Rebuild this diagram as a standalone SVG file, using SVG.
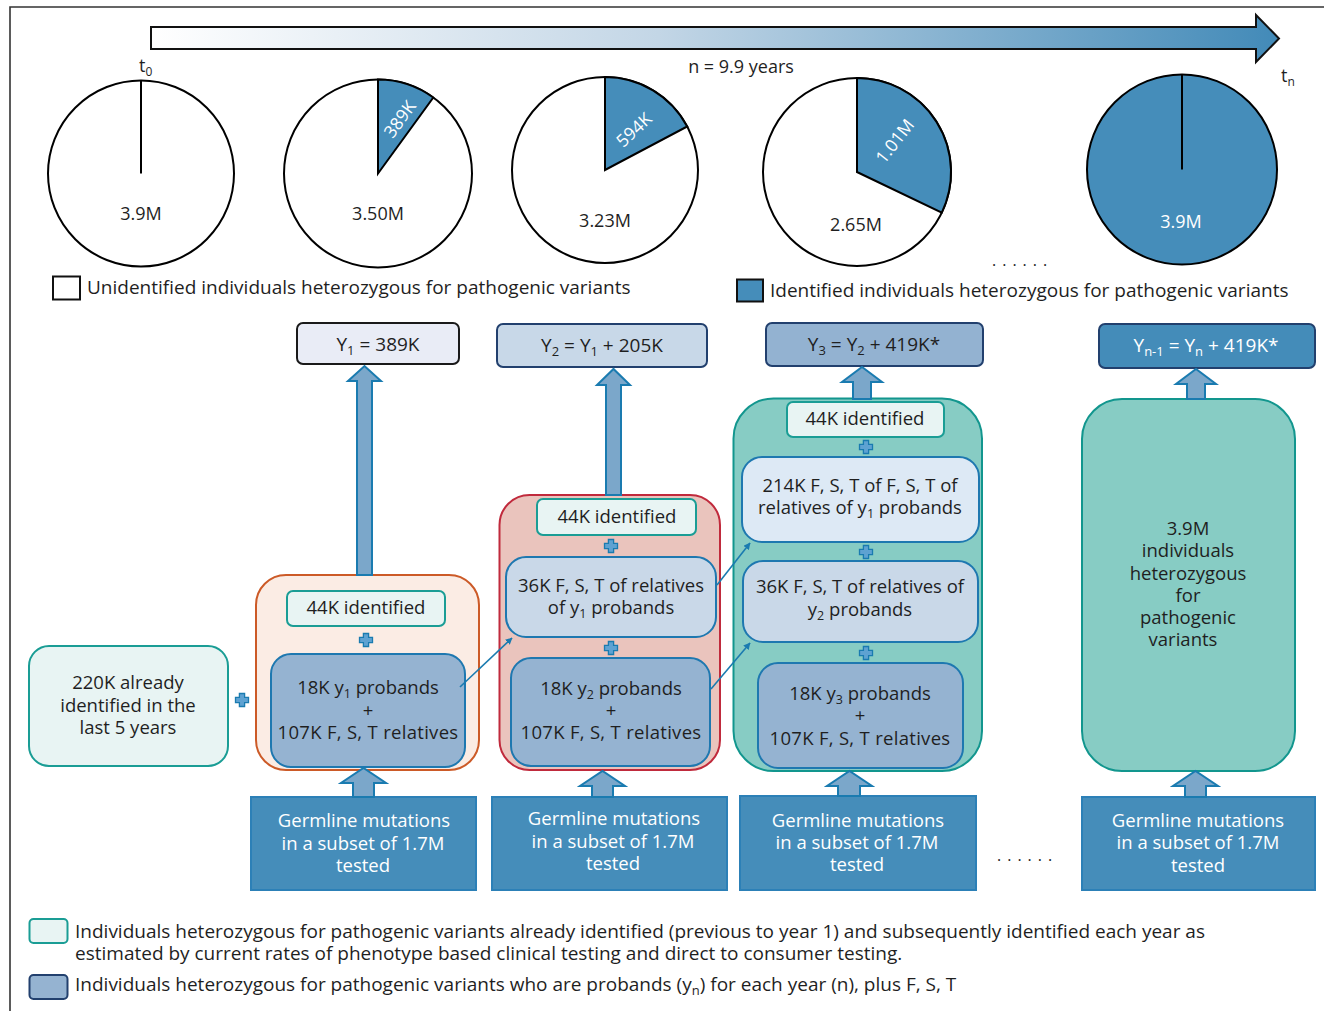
<svg xmlns="http://www.w3.org/2000/svg" width="1324" height="1011" viewBox="0 0 1324 1011">
<defs>
<linearGradient id="tl" x1="0" y1="0" x2="1" y2="0">
<stop offset="0" stop-color="#ffffff"/>
<stop offset="0.45" stop-color="#c3d6e6"/>
<stop offset="1" stop-color="#428ab8"/>
</linearGradient>
<path id="plus" d="M-2.6,-6.5 h5.2 v3.9 h3.9 v5.2 h-3.9 v3.9 h-5.2 v-3.9 h-3.9 v-5.2 h3.9 z" fill="#5ea2d2" stroke="#1a7bb0" stroke-width="1.3"/>
<marker id="ah" viewBox="0 0 10 10" refX="9" refY="5" markerWidth="7" markerHeight="7" orient="auto" markerUnits="userSpaceOnUse">
<path d="M0,0 L10,5 L0,10 z" fill="#1a7bb0"/>
</marker>
<style>
text{font-family:"Open Sans","Liberation Sans",Arial,sans-serif;fill:#1f1f1f}
.t{font-size:18.5px;text-anchor:middle}
.tw{font-size:18.5px;text-anchor:middle;fill:#ffffff}
.pl{font-size:18px;text-anchor:middle}
.lg{font-size:19px}
.bl{font-size:19px}
.ybox{font-size:19px;text-anchor:middle}
.blk{fill:#7ba7ca;stroke:#1a7bb0;stroke-width:2}
.germ{fill:#458dba;stroke:#2c80b7;stroke-width:2}
.prob{fill:#95b3d1;stroke:#1e78b0;stroke-width:2}
.lb{fill:#c9d8e8;stroke:#1e78b0;stroke-width:2}
.idb{fill:#e8f4f3;stroke:#1a9d95;stroke-width:2}
.pie{stroke:#000;stroke-width:2}
.conn{stroke:#1a7bb0;stroke-width:1.6;fill:none}
.dots{font-size:16px;letter-spacing:6px}
</style>
</defs>
<rect width="1324" height="1011" fill="#ffffff"/>
<g id="frame">
<path d="M10,1011 V7 H1324" fill="none" stroke="#333" stroke-width="1.6"/>
</g>
<g id="timeline">
<path d="M151,27 H1256 V15 L1279,38.5 L1256,62 V49 H151 Z" fill="url(#tl)" stroke="#111" stroke-width="2"/>
<text class="pl" x="741" y="73" font-size="18.5">n = 9.9 years</text>
<text x="139" y="72" font-size="18">t<tspan font-size="12" dy="4">0</tspan></text>
<text x="1281" y="82" font-size="18">t<tspan font-size="12" dy="4">n</tspan></text>
</g>
<g id="pies">
<g id="pie1">
<circle class="pie" cx="141" cy="173.5" r="93" fill="#fff"/>
<line x1="141" y1="173.5" x2="141" y2="80.5" stroke="#000" stroke-width="2"/>
<text class="pl" x="141" y="220">3.9M</text>
</g>
<g id="pie2">
<circle class="pie" cx="378" cy="173.5" r="94" fill="#fff"/>
<path class="pie" d="M378,173.5 V79.5 A94,94 0 0 1 433.3,97.5 Z" fill="#458dba"/>
<text x="401" y="120" font-size="17.5" text-anchor="middle" dominant-baseline="middle" transform="rotate(-54 401 120)" style="fill:#fff">389K</text>
<text class="pl" x="378" y="220">3.50M</text>
</g>
<g id="pie3">
<circle class="pie" cx="605" cy="170" r="93" fill="#fff"/>
<path class="pie" d="M605,170 V77 A93,93 0 0 1 687.2,126.5 Z" fill="#458dba"/>
<text x="635" y="131" font-size="17.5" text-anchor="middle" dominant-baseline="middle" transform="rotate(-43 635 131)" style="fill:#fff">594K</text>
<text class="pl" x="605" y="227">3.23M</text>
</g>
<g id="pie4">
<circle class="pie" cx="857" cy="172" r="94" fill="#fff"/>
<path class="pie" d="M857,172 V78 A94,94 0 0 1 941.8,212.6 Z" fill="#458dba"/>
<text x="896" y="142" font-size="17.5" text-anchor="middle" dominant-baseline="middle" transform="rotate(-52 896 142)" style="fill:#fff">1.01M</text>
<text class="pl" x="856" y="231">2.65M</text>
</g>
<g id="pie5">
<circle class="pie" cx="1182" cy="169.5" r="95" fill="#458dba"/>
<line x1="1182" y1="169.5" x2="1182" y2="74.5" stroke="#000" stroke-width="2"/>
<text class="pl" x="1181" y="228" style="fill:#fff">3.9M</text>
</g>
<text class="dots" x="992" y="266">......</text>
</g>
<g id="legend-top">
<rect x="53" y="276.5" width="27" height="23" fill="#fff" stroke="#111" stroke-width="2"/>
<text class="lg" x="87" y="294">Unidentified individuals heterozygous for pathogenic variants</text>
<rect x="737" y="279.5" width="26" height="22" fill="#458dba" stroke="#111" stroke-width="2"/>
<text class="lg" x="770" y="297">Identified individuals heterozygous for pathogenic variants</text>
</g>
<g id="ybox1">
<rect x="297" y="323" width="162" height="41" rx="6" fill="#e9ecf6" stroke="#1a1a1a" stroke-width="2"/>
<text class="ybox" x="378" y="351">Y<tspan font-size="13" dy="4">1</tspan><tspan dy="-4"> = 389K</tspan></text>
</g>
<g id="ybox2">
<rect x="497" y="324" width="210" height="43" rx="6" fill="#c8d8e8" stroke="#22406e" stroke-width="2"/>
<text class="ybox" x="602" y="352">Y<tspan font-size="13" dy="4">2</tspan><tspan dy="-4"> = Y</tspan><tspan font-size="13" dy="4">1</tspan><tspan dy="-4"> + 205K</tspan></text>
</g>
<g id="ybox3">
<rect x="766" y="323" width="217" height="43" rx="6" fill="#93b2d1" stroke="#22406e" stroke-width="2"/>
<text class="ybox" x="874" y="351">Y<tspan font-size="13" dy="4">3</tspan><tspan dy="-4"> = Y</tspan><tspan font-size="13" dy="4">2</tspan><tspan dy="-4"> + 419K*</tspan></text>
</g>
<g id="yboxn">
<rect x="1099" y="324" width="216" height="44" rx="6" fill="#448cb9" stroke="#22406e" stroke-width="2"/>
<text class="ybox" x="1206" y="352" style="fill:#fff">Y<tspan font-size="13" dy="4" style="fill:#fff">n-1</tspan><tspan dy="-4" style="fill:#fff"> = Y</tspan><tspan font-size="13" dy="4" style="fill:#fff">n</tspan><tspan dy="-4" style="fill:#fff"> + 419K*</tspan></text>
</g>
<g id="already">
<rect x="29" y="646" width="199" height="120" rx="20" class="idb"/>
<text class="t" x="128" y="689">220K already</text>
<text class="t" x="128" y="712">identified in the</text>
<text class="t" x="128" y="734">last 5 years</text>
</g>
<use href="#plus" x="242" y="700"/>
<g id="year1">
<rect x="256" y="575" width="223" height="195" rx="30" fill="#fbece4" stroke="#cc5a27" stroke-width="2"/>
<rect x="287" y="591" width="158" height="35" rx="6" class="idb"/>
<text class="t" x="366" y="614">44K identified</text>
<use href="#plus" x="366" y="640"/>
<rect x="271" y="654" width="194" height="113" rx="20" class="prob"/>
<text class="t" x="368" y="694">18K y<tspan font-size="12.5" dy="4">1</tspan><tspan dy="-4"> probands</tspan></text>
<text class="t" x="368" y="717">+</text>
<text class="t" x="368" y="739" letter-spacing="0.3">107K F, S, T relatives</text>
</g>
<g id="year2">
<rect x="499.5" y="495" width="220.5" height="275" rx="30" fill="#eac4bd" stroke="#c02a3c" stroke-width="2"/>
<rect x="537" y="499" width="159" height="36" rx="6" class="idb"/>
<text class="t" x="617" y="523">44K identified</text>
<use href="#plus" x="611" y="546"/>
<rect x="506" y="557" width="210" height="80" rx="20" class="lb"/>
<text class="t" x="611" y="592">36K F, S, T of relatives</text>
<text class="t" x="611" y="614">of y<tspan font-size="12.5" dy="4">1</tspan><tspan dy="-4"> probands</tspan></text>
<use href="#plus" x="611" y="648"/>
<rect x="511" y="658" width="199" height="108" rx="20" class="prob"/>
<text class="t" x="611" y="695">18K y<tspan font-size="12.5" dy="4">2</tspan><tspan dy="-4"> probands</tspan></text>
<text class="t" x="611" y="717">+</text>
<text class="t" x="611" y="739" letter-spacing="0.3">107K F, S, T relatives</text>
</g>
<g id="year3">
<rect x="733.5" y="398.5" width="248.5" height="372.5" rx="40" fill="#87ccc4" stroke="#12968e" stroke-width="2"/>
<rect x="787" y="402" width="157" height="35" rx="6" class="idb"/>
<text class="t" x="865" y="425">44K identified</text>
<use href="#plus" x="866" y="447"/>
<rect x="742" y="457" width="237" height="85" rx="20" fill="#dde9f5" stroke="#1e78b0" stroke-width="2"/>
<text class="t" x="860" y="492">214K F, S, T of F, S, T of</text>
<text class="t" x="860" y="514">relatives of y<tspan font-size="12.5" dy="4">1</tspan><tspan dy="-4"> probands</tspan></text>
<use href="#plus" x="866" y="552"/>
<rect x="743" y="561" width="235" height="81" rx="20" class="lb"/>
<text class="t" x="860" y="593">36K F, S, T of relatives of</text>
<text class="t" x="860" y="616">y<tspan font-size="12.5" dy="4">2</tspan><tspan dy="-4"> probands</tspan></text>
<use href="#plus" x="866" y="653"/>
<rect x="758" y="663" width="205" height="105" rx="20" class="prob"/>
<text class="t" x="860" y="700">18K y<tspan font-size="12.5" dy="4">3</tspan><tspan dy="-4"> probands</tspan></text>
<text class="t" x="860" y="722">+</text>
<text class="t" x="860" y="745" letter-spacing="0.3">107K F, S, T relatives</text>
</g>
<g id="yearn">
<rect x="1082" y="399" width="213" height="372" rx="40" fill="#87ccc4" stroke="#12968e" stroke-width="2"/>
<text class="t" x="1188" y="535">3.9M</text>
<text class="t" x="1188" y="557">individuals</text>
<text class="t" x="1188" y="580">heterozygous</text>
<text class="t" x="1188" y="602">for</text>
<text class="t" x="1188" y="624">pathogenic</text>
<text class="t" x="1183" y="646">variants</text>
</g>
<g id="germ1">
<rect x="251" y="797" width="225" height="93" class="germ"/>
<text class="tw" x="364" y="827">Germline mutations</text>
<text class="tw" x="363" y="850">in a subset of 1.7M</text>
<text class="tw" x="363" y="872">tested</text>
</g>
<g id="germ2">
<rect x="492" y="797" width="235" height="93" class="germ"/>
<text class="tw" x="614" y="825">Germline mutations</text>
<text class="tw" x="613" y="848">in a subset of 1.7M</text>
<text class="tw" x="613" y="870">tested</text>
</g>
<g id="germ3">
<rect x="740" y="796" width="236" height="94" class="germ"/>
<text class="tw" x="858" y="827">Germline mutations</text>
<text class="tw" x="857" y="849">in a subset of 1.7M</text>
<text class="tw" x="857" y="871">tested</text>
</g>
<g id="germn">
<rect x="1082" y="797" width="233" height="93" class="germ"/>
<text class="tw" x="1198" y="827">Germline mutations</text>
<text class="tw" x="1198" y="849">in a subset of 1.7M</text>
<text class="tw" x="1198" y="872">tested</text>
</g>
<text class="dots" x="997" y="861">......</text>
<g id="connectors">
<path class="blk" d="M357,575 V381 H348 L364.5,366 L381,381 H372 V575 Z"/>
<path class="blk" d="M606,495 V385 H597 L613.5,369 L630,385 H621 V495 Z"/>
<path class="blk" d="M853,399 V382 H842 L862,367 L882,382 H871 V399 Z"/>
<path class="blk" d="M1187,399 V384 H1176 L1196,369 L1216,384 H1205 V399 Z"/>
<path class="blk" d="M353,797 V783 H341 L363.5,768 L386,783 H374 V797 Z"/>
<path class="blk" d="M592,797 V786 H580 L602.5,771 L625,786 H613 V797 Z"/>
<path class="blk" d="M838,796 V786 H827 L849.5,771 L872,786 H860 V796 Z"/>
<path class="blk" d="M1185,797 V786 H1173 L1195.5,771 L1218,786 H1206 V797 Z"/>
<line class="conn" x1="460" y1="687" x2="512" y2="638" marker-end="url(#ah)"/>
<line class="conn" x1="717" y1="585" x2="750" y2="543" marker-end="url(#ah)"/>
<line class="conn" x1="711" y1="689" x2="750" y2="643" marker-end="url(#ah)"/>
</g>
<g id="legend-bottom">
<rect x="29.5" y="919" width="38" height="24" rx="4" class="idb"/>
<text class="bl" x="75" y="938">Individuals heterozygous for pathogenic variants already identified (previous to year 1) and subsequently identified each year as</text>
<text class="bl" x="75" y="960">estimated by current rates of phenotype based clinical testing and direct to consumer testing.</text>
<rect x="29.5" y="975" width="38" height="24" rx="4" fill="#95b3d1" stroke="#22406e" stroke-width="2"/>
<text class="bl" x="75" y="991">Individuals heterozygous for pathogenic variants who are probands (y<tspan font-size="13" dy="4">n</tspan><tspan dy="-4">) for each year (n), plus F, S, T</tspan></text>
</g>
</svg>
